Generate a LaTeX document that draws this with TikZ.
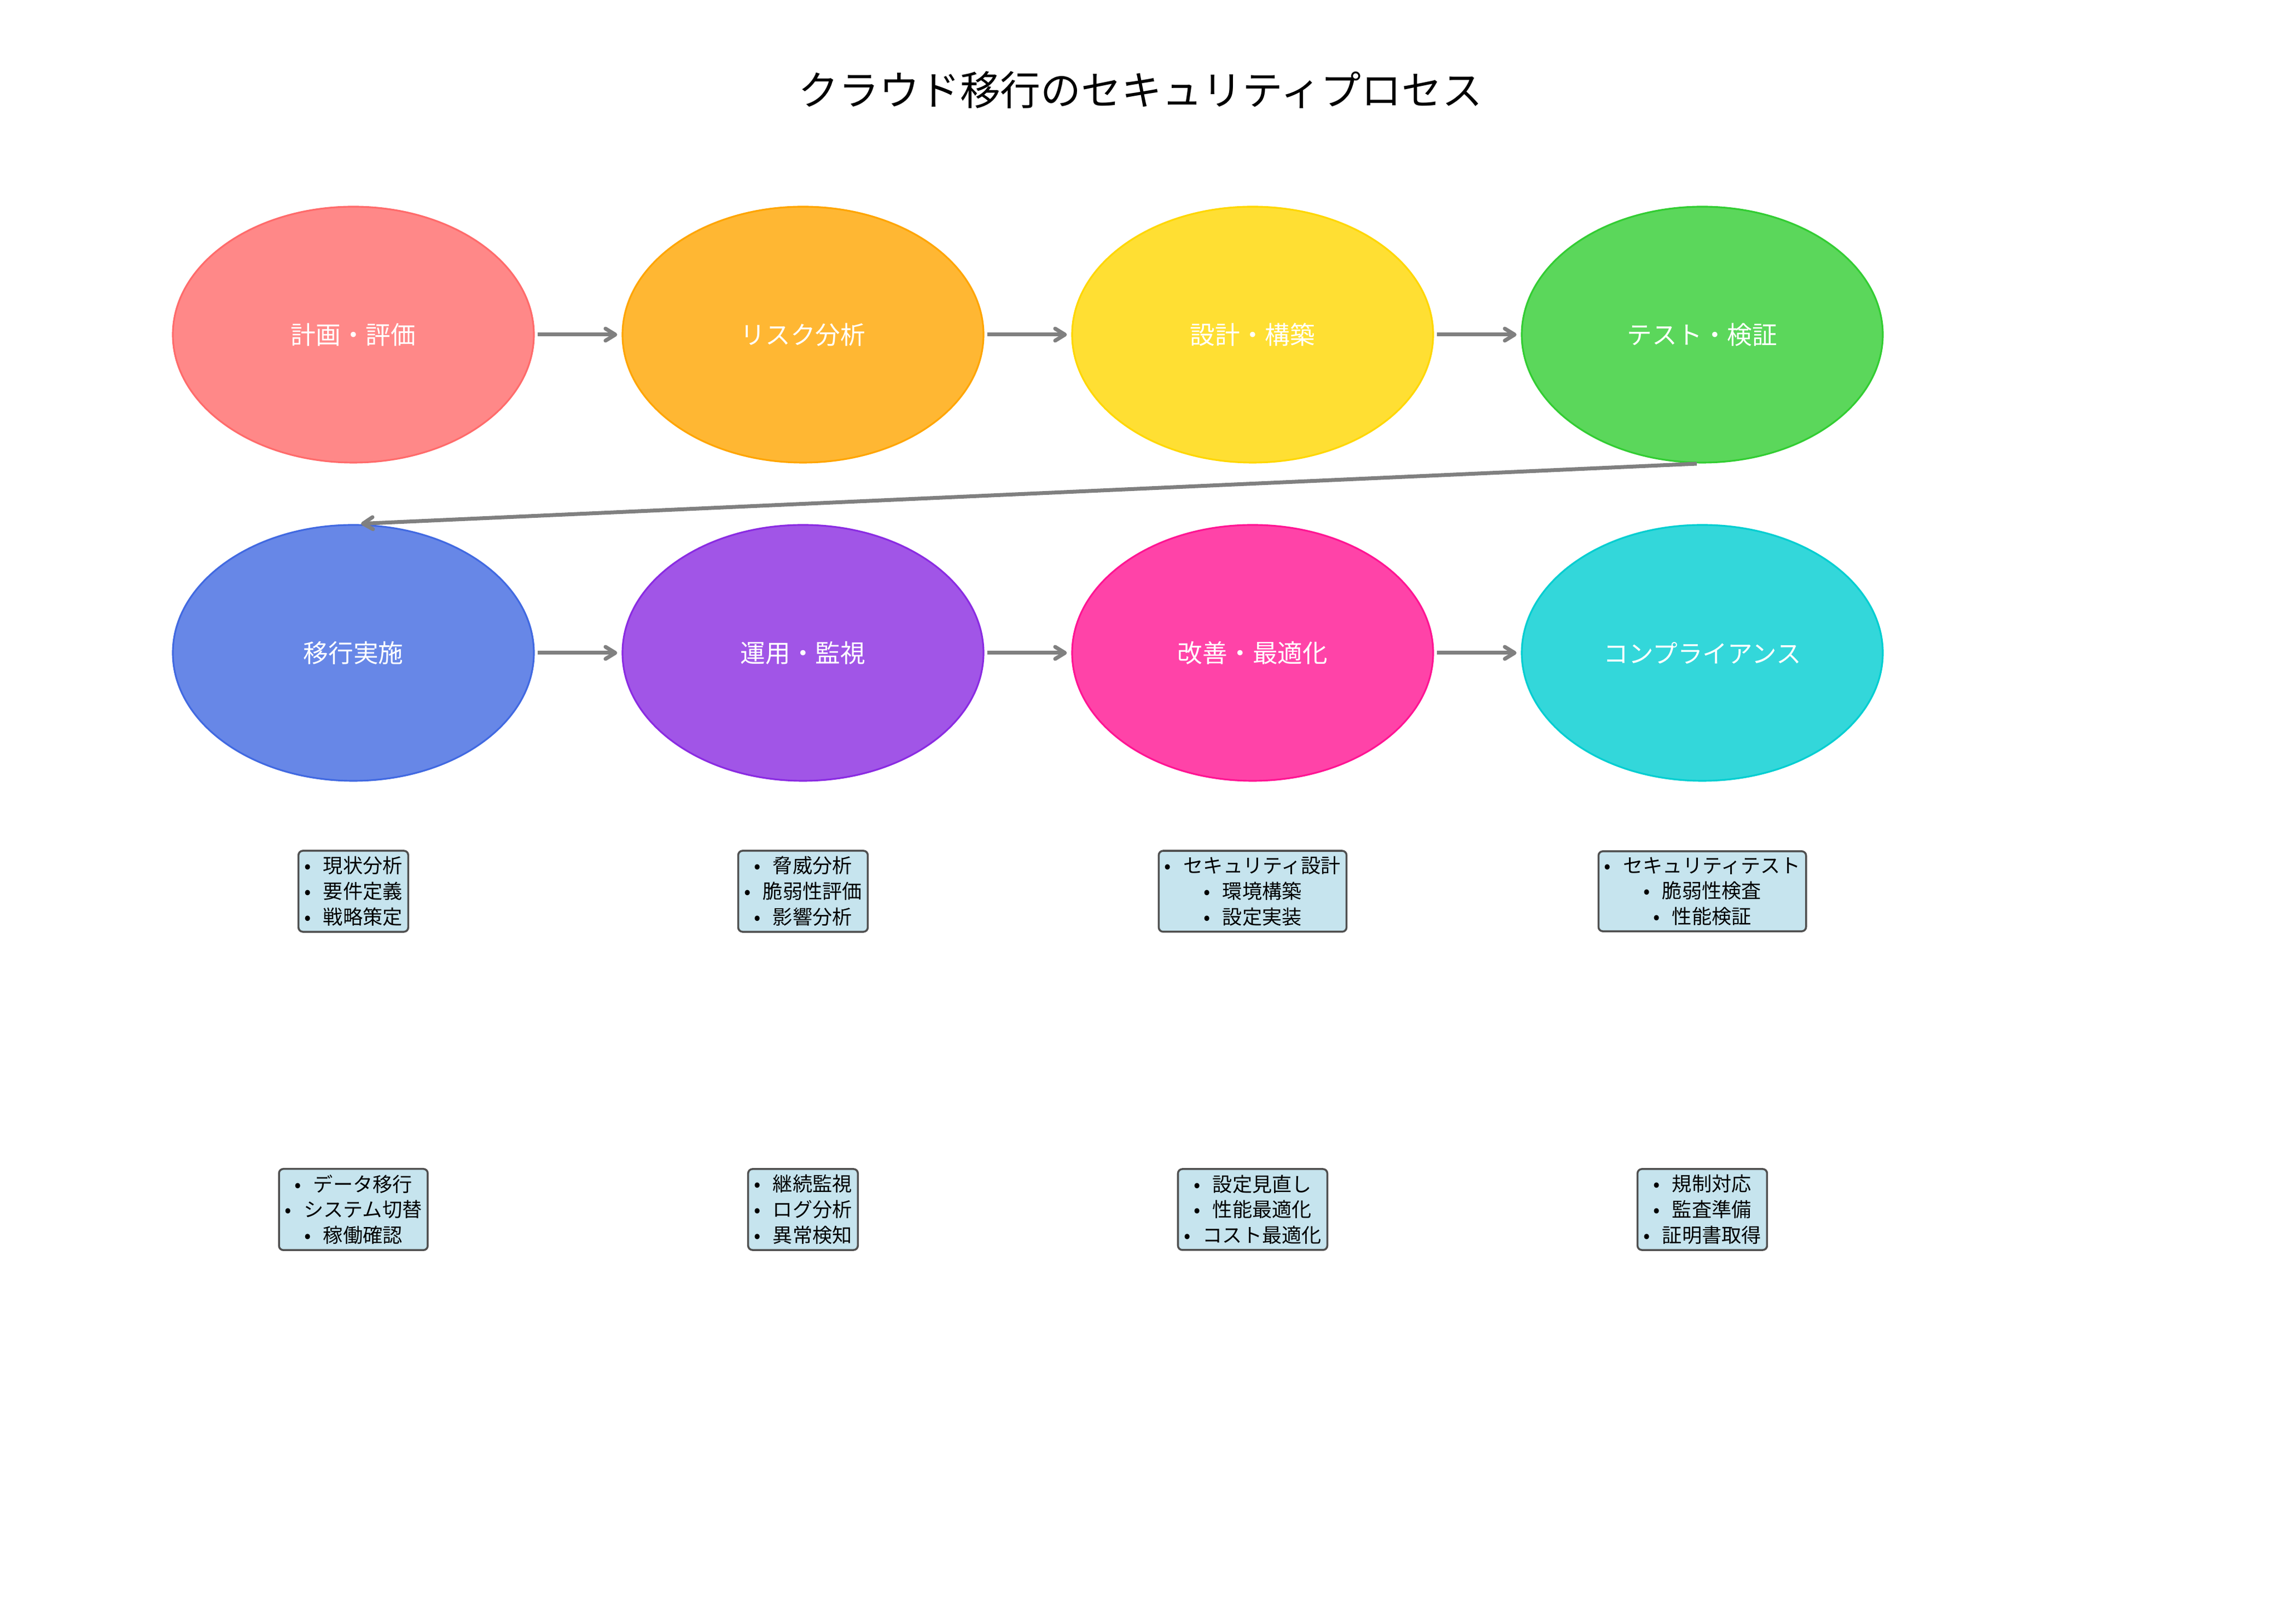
\documentclass[tikz,border=0pt]{standalone}
\usepackage{fontspec}
\setmainfont{Noto Sans CJK JP}
\usetikzlibrary{shapes.geometric, arrows.meta}

\definecolor{planred}{HTML}{FF6B6B}
\definecolor{riskorange}{HTML}{FFA500}
\definecolor{designgold}{HTML}{FFD700}
\definecolor{testgreen}{HTML}{32CD32}
\definecolor{moveblue}{HTML}{4169E1}
\definecolor{opviolet}{HTML}{8A2BE2}
\definecolor{tunepink}{HTML}{FF1493}
\definecolor{rulecyan}{HTML}{00CED1}
\definecolor{boxfill}{HTML}{C6E4EE}
\definecolor{boxline}{HTML}{505050}

\newcommand{\dotitem}{•\hspace{0.62em}}

\begin{document}
\begin{tikzpicture}[
phase/.style={ellipse, draw=#1, fill=#1, fill opacity=0.8, text opacity=1, line width=0.9pt, minimum width=6.6cm, minimum height=4.68cm, inner sep=0pt, text=white, font=\fontsize{13}{15}\selectfont},
detail/.style={draw=boxline, fill=boxfill, line width=1pt, rounded corners=0.08cm, align=center, inner sep=3pt, font=\fontsize{10.3}{13.3}\selectfont},
flow/.style={draw=gray, line width=2pt, -{Straight Barb[length=1.8mm, width=2.2mm, round]}, shorten <=0.05cm, shorten >=0.08cm}
]
\fill[white] (0, 0) rectangle (41.7, 29.7);
\useasboundingbox (0, 0) rectangle (41.7, 29.7);

\node (title) at (20.85, 28.05) {\fontsize{21}{25}\selectfont クラウド移行のセキュリティプロセス};

\node[phase=planred] (plan) at (6.46, 23.58) {計画・評価};
\node[phase=riskorange] (risk) at (14.68, 23.58) {リスク分析};
\node[phase=designgold] (design) at (22.90, 23.58) {設計・構築};
\node[phase=testgreen] (test) at (31.12, 23.58) {テスト・検証};
\node[phase=moveblue] (move) at (6.46, 17.76) {移行実施};
\node[phase=opviolet] (operate) at (14.68, 17.76) {運用・監視};
\node[phase=tunepink] (tune) at (22.90, 17.76) {改善・最適化};
\node[phase=rulecyan] (comply) at (31.12, 17.76) {コンプライアンス};

\draw[flow] (plan) -- (risk);
\draw[flow] (risk) -- (design);
\draw[flow] (design) -- (test);
\draw[flow, shorten <=0.1cm, shorten >=0.14cm] (test.south) -- (move.north);
\draw[flow] (move) -- (operate);
\draw[flow] (operate) -- (tune);
\draw[flow] (tune) -- (comply);

\node[detail] (plan list) at (6.46, 13.40) {\dotitem 現状分析\\\dotitem 要件定義\\\dotitem 戦略策定};
\node[detail] (risk list) at (14.68, 13.40) {\dotitem 脅威分析\\\dotitem 脆弱性評価\\\dotitem 影響分析};
\node[detail] (design list) at (22.90, 13.40) {\dotitem セキュリティ設計\\\dotitem 環境構築\\\dotitem 設定実装};
\node[detail] (test list) at (31.12, 13.40) {\dotitem セキュリティテスト\\\dotitem 脆弱性検査\\\dotitem 性能検証};
\node[detail] (move list) at (6.46, 7.58) {\dotitem データ移行\\\dotitem システム切替\\\dotitem 稼働確認};
\node[detail] (operate list) at (14.68, 7.58) {\dotitem 継続監視\\\dotitem ログ分析\\\dotitem 異常検知};
\node[detail] (tune list) at (22.90, 7.58) {\dotitem 設定見直し\\\dotitem 性能最適化\\\dotitem コスト最適化};
\node[detail] (comply list) at (31.12, 7.58) {\dotitem 規制対応\\\dotitem 監査準備\\\dotitem 証明書取得};
\end{tikzpicture}
\end{document}
